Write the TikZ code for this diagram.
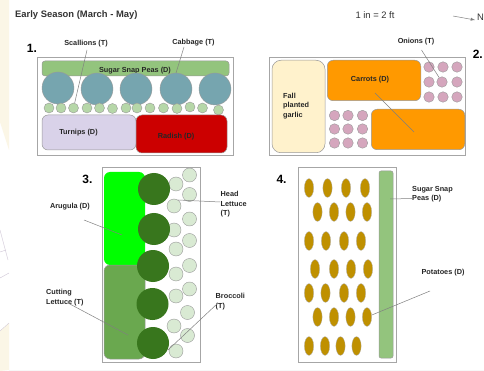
\documentclass[tikz,border=0pt]{standalone}
\usepackage{fontspec}
\setmainfont{Liberation Sans}
\usetikzlibrary{shapes.geometric}
\definecolor{cabc}{HTML}{76A5AF}
\definecolor{scac}{HTML}{B6D7A8}
\definecolor{onic}{HTML}{D5A6BD}
\definecolor{broc}{HTML}{38761D}
\definecolor{heac}{HTML}{D9EAD3}
\definecolor{potc}{HTML}{BF9000}
\definecolor{peac}{HTML}{93C47D}
\definecolor{turc}{HTML}{D9D2E9}
\definecolor{radc}{HTML}{CC0000}
\definecolor{garc}{HTML}{FFF2CC}
\definecolor{carc}{HTML}{FF9900}
\definecolor{aruc}{HTML}{00FF00}
\definecolor{cutc}{HTML}{6AA84F}
\definecolor{creamc}{HTML}{FBF6E6}
\definecolor{sketchc}{HTML}{CFC6D6}
\begin{document}
\begin{tikzpicture}[x=1pt,y=-1pt,
 bedbox/.style={draw=black!35,line width=0.8pt,fill=white,inner sep=0pt},
 lbl/.style={font=\fontsize{7.3}{9.3}\selectfont\bfseries,text=black!85,inner sep=0pt,align=left},
 num/.style={font=\fontsize{12}{14}\selectfont\bfseries,inner sep=0pt},
 lead/.style={draw=black!50,line width=0.5pt},
 patch/.style={draw=black!40,line width=0.5pt,rounded corners=6pt,inner sep=0pt},
 cab/.style={circle,draw=black!40,line width=0.4pt,fill=cabc,minimum size=32pt,inner sep=0pt},
 sca/.style={circle,draw=black!40,line width=0.4pt,fill=scac,minimum size=10pt,inner sep=0pt},
 oni/.style={circle,draw=black!40,line width=0.4pt,fill=onic,minimum size=10.5pt,inner sep=0pt},
 bro/.style={circle,draw=none,fill=broc,minimum size=32pt,inner sep=0pt},
 hea/.style={circle,draw=black!40,line width=0.4pt,fill=heac,minimum size=14pt,inner sep=0pt},
 pot/.style={ellipse,draw=black!30,line width=0.3pt,fill=potc,minimum width=9.3pt,minimum height=18.7pt,inner sep=0pt},
 head/.style={font=\fontsize{9.4}{11}\selectfont,text=black!80,inner sep=0pt},
]
\useasboundingbox (0,0) rectangle (484,371);
\fill[white] (0,0) rectangle (484,371);
\fill[creamc] (0,0) -- (9,0) -- (9,150) -- (0,122) -- cycle;
\fill[creamc] (0,331) -- (9,323) -- (9,370) -- (0,371) -- cycle;
\fill[black!3] (9,370) rectangle (484,371);
\draw[sketchc,line width=0.4pt] (0,230) -- (8,260) (0,252) -- (6,250) (0,278) -- (9,273);
\draw[sketchc,line width=0.3pt] (0,331) -- (9,323);
% headers
\node[head,font=\fontsize{9.4}{11}\selectfont\bfseries,anchor=west] (title) at (15,15) {Early Season (March - May)};
\node[head] (scale) at (375,15) {1 in = 2 ft};
\node[head,anchor=east] (north) at (484,17.5) {N};
\coordinate (ntail) at (453,16);
\draw[black!50,line width=0.5pt,-latex] (ntail) -- (475,20);
% bed 1
\node[num] (n1) at (32,48.5) {1.};
\node[bedbox,minimum width=196pt,minimum height=98pt] (bed1) at (135,106) {};
\node[patch,fill=peac,minimum width=187pt,minimum height=15pt,rounded corners=3pt] (peas1) at (135.5,68.5) {};
\node[lbl] (tpeas) at (135,71) {Sugar Snap Peas (D)};
\foreach \n/\x/\y in {a/58/88,b/97/89,c/136/89,d/176/89,e/215/89}{\node[cab] (cab\n) at (\x,\y) {};}
\foreach \n/\x/\y in {1/49/108,2/61/108,3/73.5/108,4/87/108,5/99.5/108,6/112.5/108.5,7/126/108,8/137/108,9/150/108,10/163.5/108,11/177/108.5,12/190/107,13/202.5/108,14/218.5/110}{\node[sca] (sca\n) at (\x,\y) {};}
\node[patch,fill=turc,minimum width=94pt,minimum height=35pt] (tur) at (89,132.5) {};
\node[patch,fill=radc,minimum width=91pt,minimum height=38pt] (rad) at (181.5,134) {};
\node[lbl] (ttur) at (78.5,132.5) {Turnips (D)};
\node[lbl] (trad) at (176,136.5) {Radish (D)};
\node[lbl] (lsca) at (86,43.5) {Scallions (T)};
\node[lbl] (lcab) at (193.5,43) {Cabbage (T)};
\coordinate (s1) at (87,50);
\coordinate (c1) at (184,47);
\coordinate (c2) at (176,73);
\draw[lead] (s1) -- (sca3);
\draw[lead] (c1) -- (c2);
% bed 2
\node[num,anchor=east] (n2) at (483,54) {2.};
\node[bedbox,minimum width=196pt,minimum height=98pt] (bed2) at (367,106) {};
\node[patch,fill=garc,minimum width=53pt,minimum height=92.5pt,rounded corners=9pt] (gar) at (298.5,106.5) {};
\node[patch,fill=carc,minimum width=93.5pt,minimum height=40.5pt] (car1) at (374,80.5) {};
\node[patch,fill=carc,minimum width=93.5pt,minimum height=40.5pt] (car2) at (418,129.5) {};
\foreach \n/\x/\y in {1/429/67,2/443/67,3/457/67,4/429/82,5/442/82,6/457/82,7/429/97,8/443/97,9/457/97,10/334.5/115.5,11/348/115.5,12/362.5/115.5,13/334.5/129,14/348/129,15/362.5/129,16/334.5/143,17/348/143,18/362.5/143}{\node[oni] (oni\n) at (\x,\y) {};}
\node[lbl] (tcar) at (370,79.5) {Carrots (D)};
\node[lbl,anchor=west] (tgar) at (283,106) {Fall\\planted\\garlic};
\node[lbl] (loni) at (416,42) {Onions (T)};
\coordinate (oa) at (421.5,50);
\draw[lead] (oa) -- (oni5);
\coordinate (ca) at (375,93);
\coordinate (cb) at (414,132);
\draw[lead] (ca) -- (cb);
% bed 3
\node[num] (n3) at (87.5,179.5) {3.};
\node[bedbox,minimum width=98pt,minimum height=195pt] (bed3) at (151,264.5) {};
\node[patch,fill=aruc,draw=none,minimum width=41pt,minimum height=93pt] (aru) at (124.5,218.5) {};
\node[patch,fill=cutc,minimum width=41pt,minimum height=94pt] (cut) at (124.5,312) {};
\foreach \n/\x/\y in {1/176/184,2/189.5/175,3/189.5/194.5,4/174/206,5/189.5/219,6/174/230,7/189.5/240.5,8/176/249,9/189.5/265.5,10/176/274,11/189.5/289,12/176/296,13/187.5/312.5,14/174/326,15/187.5/335.5,16/176/351}{\node[hea] (hea\n) at (\x,\y) {};}
\foreach \n/\x/\y in {1/154/189,2/154/229,3/153/266,4/152.5/304,5/153/343}{\node[bro] (bro\n) at (\x,\y) {};}
\node[lbl] (laru) at (70,206.5) {Arugula (D)};
\node[lbl,anchor=north west] (lcut) at (46,289.5) {Cutting\\Lettuce (T)};
\node[lbl,anchor=north west] (lhea) at (220.5,191.5) {Head\\Lettuce\\(T)};
\node[lbl,anchor=north west] (lbro) at (215.5,293.5) {Broccoli\\(T)};
\coordinate (aa) at (84,220);
\coordinate (ab) at (122,235);
\draw[lead] (aa) -- (ab);
\coordinate (cc) at (68,303);
\coordinate (cd) at (128,335);
\draw[lead] (cc) -- (cd);
\coordinate (ha) at (178,200);
\coordinate (hb) at (220,202);
\draw[lead] (ha) -- (hb);
\coordinate (ba) at (218,303);
\coordinate (bb) at (168,350);
\draw[lead] (ba) -- (bb);
% bed 4
\node[num] (n4) at (281.5,179.5) {4.};
\node[bedbox,minimum width=98.5pt,minimum height=195pt] (bed4) at (347.5,264.5) {};
\node[patch,fill=peac,minimum width=14pt,minimum height=187pt,rounded corners=2pt] (peas4) at (386,264.5) {};
\foreach \n/\x/\y in {1/309/188,2/327.5/188,3/346/188,4/365/188,5/317.5/212,6/334/212,7/350.5/212,8/367/212,9/309/241,10/326/241,11/344/241,12/361/241,13/315/269,14/334/269,15/351/269,16/368/269,17/309/293,18/325.5/293,19/344/293,20/361/293,21/317.5/317,22/334/317,23/350.5/317,24/367/317,25/309/346,26/325/346,27/340.5/346,28/356.5/346}{\node[pot] (pot\n) at (\x,\y) {};}
\node[lbl,anchor=north west] (lpea) at (412,186) {Sugar Snap\\Peas (D)};
\node[lbl] (lpot) at (443,273) {Potatoes (D)};
\coordinate (pa) at (390,199);
\coordinate (pc) at (412,198.5);
\draw[lead] (pa) -- (pc);
\coordinate (pb) at (430,291);
\draw[lead] (pb) -- (pot24);
\end{tikzpicture}
\end{document}
